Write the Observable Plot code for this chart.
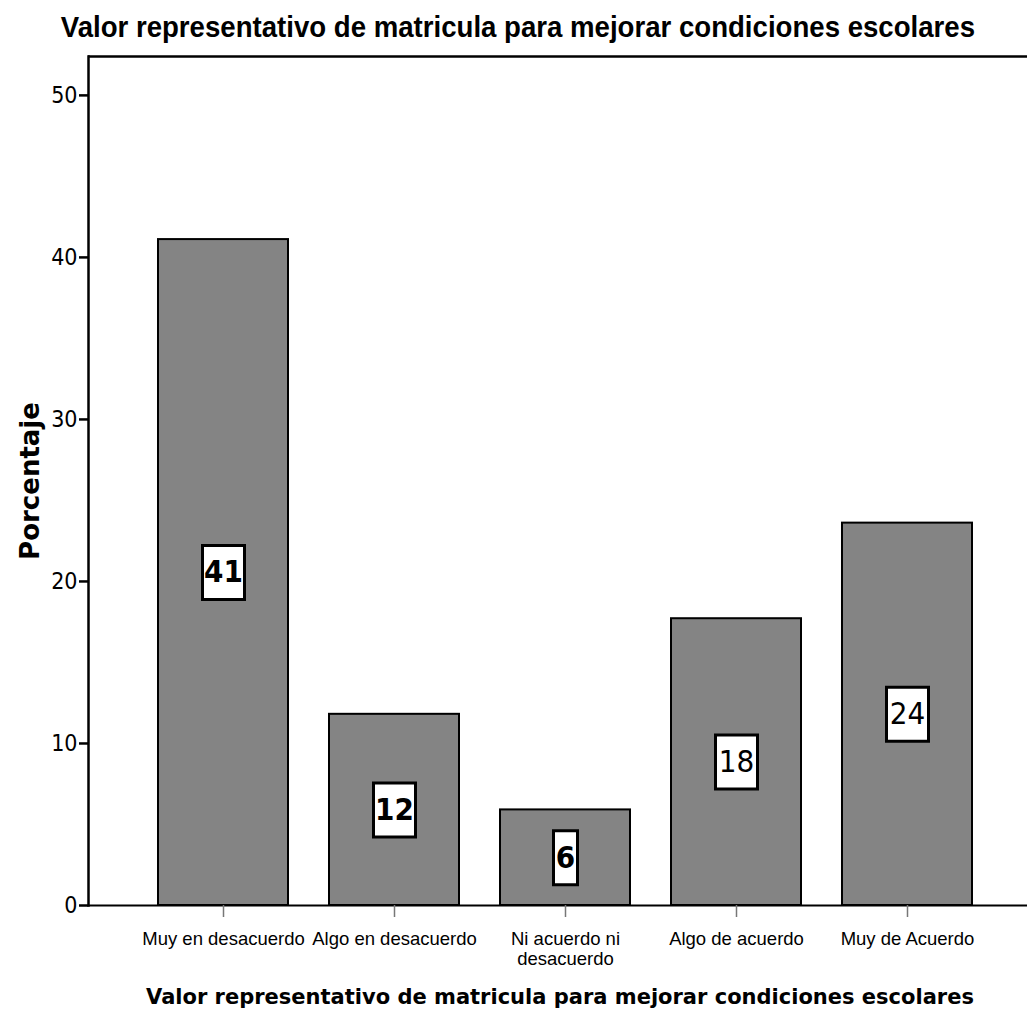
<!DOCTYPE html>
<html><head><meta charset="utf-8">
<script src="https://cdn.jsdelivr.net/npm/d3@7"></script>
<script src="https://cdn.jsdelivr.net/npm/@observablehq/plot@0.6"></script>
<style>
body{margin:0;background:#fff;width:1027px;overflow:hidden}
#title{box-sizing:border-box;width:1027px;height:48px;padding-left:8px;text-align:center;line-height:54px;color:#000;white-space:nowrap}
#title span{display:inline-block;font-family:"Liberation Sans",Arial,sans-serif;font-weight:bold;font-size:30px;transform:scaleX(0.92);transform-origin:center}
#xlabel{box-sizing:border-box;width:1027px;height:46px;padding-left:93px;font-family:"DejaVu Sans",sans-serif;font-weight:bold;font-size:21px;text-align:center;line-height:38px;color:#000;white-space:nowrap}
#chart svg{display:block}
</style>
</head><body>
<div id="title"><span></span></div>
<div id="chart"></div>
<div id="xlabel"></div>
<script>
const titleText = "Valor representativo de matricula para mejorar condiciones escolares";
const xLabelText = "Valor representativo de matricula para mejorar condiciones escolares";
const yLabelText = "Porcentaje";
const categories = ["Muy en desacuerdo", "Algo en desacuerdo", "Ni acuerdo ni\ndesacuerdo", "Algo de acuerdo", "Muy de Acuerdo"];
const values = [41.1, 11.8, 5.9, 17.7, 23.6];
const labels = ["41", "12", "6", "18", "24"];
const yTicks = [0, 10, 20, 30, 40, 50];
const yMax = 52.4;

document.querySelector("#title span").textContent = titleText;
document.getElementById("xlabel").textContent = xLabelText;

const data = categories.map((c, i) => ({cat: c, value: values[i], label: labels[i], i}));

function boxSymbol(w, h) {
  return {draw(ctx) {
    ctx.moveTo(-w / 2, -h / 2);
    ctx.lineTo(w / 2, -h / 2);
    ctx.lineTo(w / 2, h / 2);
    ctx.lineTo(-w / 2, h / 2);
    ctx.closePath();
  }};
}

const narrow = "'DejaVu Sans Condensed','Liberation Sans',sans-serif";

const chart = Plot.plot({
  width: 1027,
  height: 930,
  marginLeft: 88,
  marginRight: 0,
  marginTop: 8,
  marginBottom: 73,
  style: {background: "#fff", color: "#000", fontFamily: "'Liberation Sans',Arial,sans-serif"},
  x: {domain: categories, paddingInner: 0.24, paddingOuter: 0.362, align: 0.557, label: null},
  y: {domain: [0, yMax], label: null},
  marks: [
    Plot.barY(data, {x: "cat", y: "value", fill: "#848484", stroke: "#000", strokeWidth: 2}),
    Plot.ruleY([0], {stroke: "#000", strokeWidth: 2}),
    Plot.ruleY([yMax], {stroke: "#000", strokeWidth: 2.5}),
    Plot.frame({anchor: "left", stroke: "#000", strokeWidth: 2.5}),
    Plot.axisY({ticks: yTicks, tickSize: 9, tickPadding: 2, strokeWidth: 2.5, fontSize: 23, fontFamily: narrow, label: null}),
    Plot.axisX({tickSize: 12, tickPadding: 14, stroke: "#777", strokeWidth: 1.5, fontSize: 18.5, fontFamily: "'Liberation Sans',Arial,sans-serif", label: null, lineHeight: 1.05}),
    Plot.text([yLabelText], {frameAnchor: "left", textAnchor: "middle", rotate: -90, dx: -58, fontSize: 26, fontWeight: "bold", fontFamily: "'DejaVu Sans',sans-serif"}),
    Plot.dot(data.filter(d => d.label.length > 1), {x: "cat", y: d => d.value / 2, r: 1, symbol: boxSymbol(42, 54), fill: "#fff", stroke: "#000", strokeWidth: 3}),
    Plot.dot(data.filter(d => d.label.length === 1), {x: "cat", y: d => d.value / 2, r: 1, symbol: boxSymbol(24, 54), fill: "#fff", stroke: "#000", strokeWidth: 3}),
    Plot.text(data.filter(d => d.i < 3), {x: "cat", y: d => d.value / 2, text: "label", fontSize: 31, fontWeight: "bold", fontFamily: narrow, fill: "#000"}),
    Plot.text(data.filter(d => d.i >= 3), {x: "cat", y: d => d.value / 2, text: "label", fontSize: 31, fontWeight: "normal", fontFamily: narrow, fill: "#000"})
  ]
});
document.getElementById("chart").appendChild(chart);
</script>
</body></html>
